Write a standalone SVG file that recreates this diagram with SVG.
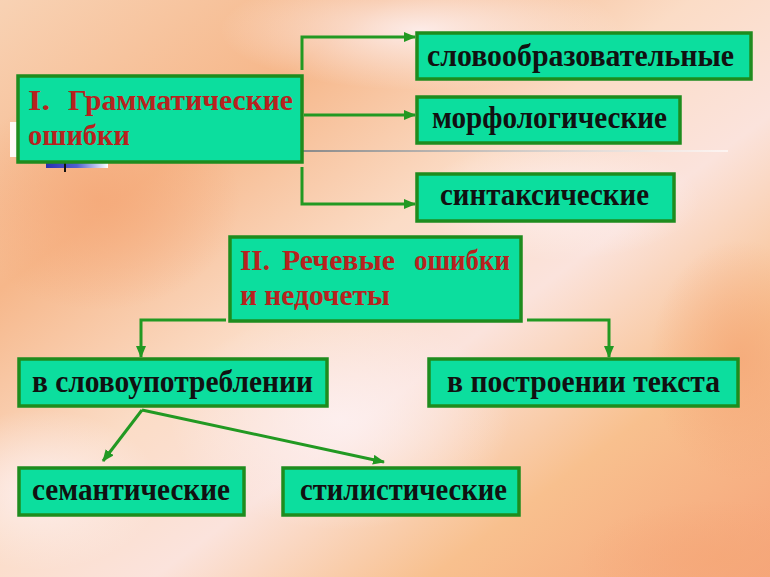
<svg xmlns="http://www.w3.org/2000/svg" width="770" height="577" viewBox="0 0 770 577">
<defs>
<linearGradient id="bg" x1="0" y1="0" x2="1" y2="1">
<stop offset="0" stop-color="#f8d2b4"/>
<stop offset="0.25" stop-color="#f6b78a"/>
<stop offset="0.45" stop-color="#fbdcc6"/>
<stop offset="0.6" stop-color="#fbe3dc"/>
<stop offset="0.78" stop-color="#f8c08e"/>
<stop offset="1" stop-color="#f6a47a"/>
</linearGradient>
<radialGradient id="w1" cx="0.5" cy="0.5" r="0.5">
<stop offset="0" stop-color="#fdf0f0" stop-opacity="0.9"/>
<stop offset="1" stop-color="#fdf0f0" stop-opacity="0"/>
</radialGradient>
<radialGradient id="o1" cx="0.5" cy="0.5" r="0.5">
<stop offset="0" stop-color="#f5a878" stop-opacity="0.8"/>
<stop offset="1" stop-color="#f5a878" stop-opacity="0"/>
</radialGradient>
<linearGradient id="gline" x1="0" y1="0" x2="1" y2="0">
<stop offset="0" stop-color="#8a8a8a"/>
<stop offset="1" stop-color="#ffffff" stop-opacity="0.6"/>
</linearGradient>
<linearGradient id="blue" x1="0" y1="0" x2="1" y2="0">
<stop offset="0" stop-color="#2a30b0"/>
<stop offset="0.5" stop-color="#5060d0"/>
<stop offset="1" stop-color="#ffffff"/>
</linearGradient>
<marker id="ah" markerUnits="userSpaceOnUse" markerWidth="12" markerHeight="10" refX="11" refY="5" orient="auto">
<path d="M0,0 L12,5 L0,10 Z" fill="#229922"/>
</marker>
<style>
.box{fill:#0cde9e;stroke:#1e8c1e;stroke-width:3.5}
.blk{font-family:"Liberation Serif","Times New Roman",serif;font-weight:bold;font-size:32px;fill:#111}
.red{font-family:"Liberation Serif","Times New Roman",serif;font-weight:bold;font-size:30px;fill:#b8221e}
.con{fill:none;stroke:#229922;stroke-width:3}
</style>
</defs>
<rect width="770" height="577" fill="url(#bg)"/>
<ellipse cx="420" cy="30" rx="200" ry="60" fill="url(#w1)"/>
<ellipse cx="340" cy="420" rx="170" ry="110" fill="url(#w1)"/>
<ellipse cx="40" cy="490" rx="120" ry="80" fill="url(#w1)"/>
<ellipse cx="560" cy="200" rx="140" ry="60" fill="url(#w1)"/>
<ellipse cx="100" cy="200" rx="140" ry="110" fill="url(#o1)"/>
<ellipse cx="740" cy="360" rx="90" ry="120" fill="url(#o1)"/>
<ellipse cx="720" cy="560" rx="140" ry="60" fill="url(#o1)"/>
<rect x="10" y="122" width="20" height="35" fill="#ffffff" opacity="0.9"/>
<rect x="46" y="162" width="62" height="6" fill="url(#blue)"/>
<rect x="64" y="162" width="2" height="10" fill="#111"/>
<rect x="303" y="150" width="425" height="2" fill="url(#gline)"/>
<g id="connectors">
<path class="con" d="M302,70 V37 H415" marker-end="url(#ah)"/>
<path class="con" d="M304,115 H415" marker-end="url(#ah)"/>
<path class="con" d="M302,167 V204 H415" marker-end="url(#ah)"/>
<path class="con" d="M226,320 H141 V357" marker-end="url(#ah)"/>
<path class="con" d="M527,320 H609 V357" marker-end="url(#ah)"/>
<path class="con" d="M142,410 L103,461" marker-end="url(#ah)"/>
<path class="con" d="M142,410 L384,462" marker-end="url(#ah)"/>
</g>
<g id="node-grammar">
<rect class="box" x="18" y="76" width="284" height="86"/>
<text class="red" x="28" y="110" textLength="22" lengthAdjust="spacingAndGlyphs">I.</text>
<text class="red" x="68" y="110" textLength="225" lengthAdjust="spacingAndGlyphs">Грамматические</text>
<text class="red" x="28" y="145" textLength="102" lengthAdjust="spacingAndGlyphs">ошибки</text>
</g>
<g id="node-word">
<rect class="box" x="417" y="33" width="334" height="46"/>
<text class="blk" x="427" y="66" textLength="307" lengthAdjust="spacingAndGlyphs">словообразовательные</text>
</g>
<g id="node-morph">
<rect class="box" x="417" y="97" width="263" height="46"/>
<text class="blk" x="432" y="128" textLength="235" lengthAdjust="spacingAndGlyphs">морфологические</text>
</g>
<g id="node-synt">
<rect class="box" x="417" y="174" width="257" height="47"/>
<text class="blk" x="440" y="205" textLength="209" lengthAdjust="spacingAndGlyphs">синтаксические</text>
</g>
<g id="node-speech">
<rect class="box" x="230" y="237" width="291" height="84"/>
<text class="red" x="240" y="270" textLength="30" lengthAdjust="spacingAndGlyphs">II.</text>
<text class="red" x="282" y="270" textLength="113" lengthAdjust="spacingAndGlyphs">Речевые</text>
<text class="red" x="414" y="270" textLength="96" lengthAdjust="spacingAndGlyphs">ошибки</text>
<text class="red" x="240" y="305" textLength="150" lengthAdjust="spacingAndGlyphs">и недочеты</text>
</g>
<g id="node-usage">
<rect class="box" x="19" y="359" width="308" height="47"/>
<text class="blk" x="32" y="392" textLength="281" lengthAdjust="spacingAndGlyphs">в словоупотреблении</text>
</g>
<g id="node-text">
<rect class="box" x="429" y="359" width="309" height="47"/>
<text class="blk" x="447" y="392" textLength="273" lengthAdjust="spacingAndGlyphs">в построении  текста</text>
</g>
<g id="node-sem">
<rect class="box" x="19" y="468" width="225" height="47"/>
<text class="blk" x="32" y="500" textLength="198" lengthAdjust="spacingAndGlyphs">семантические</text>
</g>
<g id="node-style">
<rect class="box" x="283" y="468" width="236" height="47"/>
<text class="blk" x="300" y="500" textLength="207" lengthAdjust="spacingAndGlyphs">стилистические</text>
</g>
</svg>
